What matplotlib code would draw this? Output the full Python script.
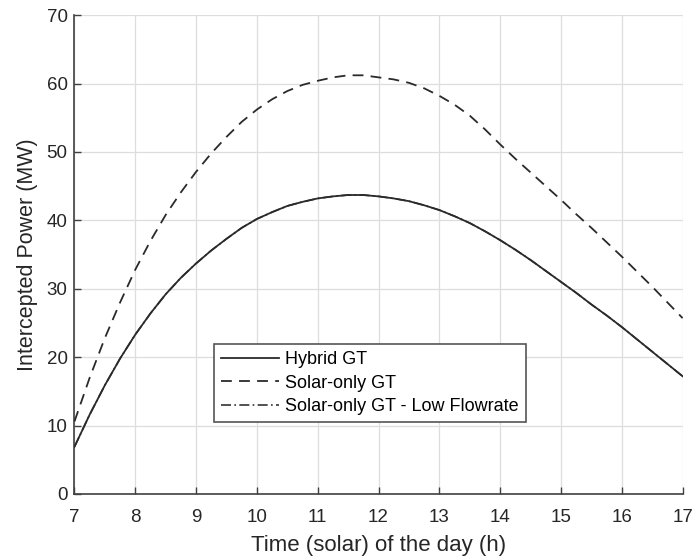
import matplotlib
matplotlib.use("Agg")
import matplotlib.pyplot as plt

# solar time of day (h), every quarter hour
hours = [7.0, 7.25, 7.5, 7.75, 8.0, 8.25, 8.5, 8.75, 9.0, 9.25, 9.5, 9.75,
         10.0, 10.25, 10.5, 10.75, 11.0, 11.25, 11.5, 11.75, 12.0, 12.25, 12.5, 12.75,
         13.0, 13.25, 13.5, 13.75, 14.0, 14.25, 14.5, 14.75, 15.0, 15.25, 15.5, 15.75,
         16.0, 16.25, 16.5, 16.75, 17.0]

# intercepted power (MW)
hybrid_gt = [6.9, 11.6, 15.9, 19.8, 23.3, 26.4, 29.2, 31.6, 33.7, 35.6, 37.3, 38.9,
             40.2, 41.2, 42.1, 42.7, 43.2, 43.5, 43.7, 43.7, 43.5, 43.2, 42.8, 42.2,
             41.5, 40.6, 39.6, 38.4, 37.1, 35.7, 34.2, 32.6, 31.0, 29.4, 27.7, 26.1,
             24.4, 22.6, 20.8, 19.0, 17.2]
solar_only_gt = [10.6, 17.0, 22.8, 28.0, 32.8, 37.0, 40.8, 44.1, 47.1, 49.8, 52.2, 54.4,
                 56.2, 57.7, 58.9, 59.8, 60.4, 60.9, 61.2, 61.2, 60.9, 60.6, 60.1, 59.3,
                 58.2, 56.9, 55.3, 53.3, 51.1, 49.0, 47.0, 45.0, 43.0, 40.9, 38.9, 36.8,
                 34.7, 32.5, 30.3, 28.0, 25.7]
# the low flowrate case is hidden under the hybrid curve
solar_only_low = list(hybrid_gt)

x_ticks = list(range(7, 18))
y_ticks = list(range(0, 80, 10))

plt.rcParams["font.family"] = ["Liberation Sans", "DejaVu Sans"]
axis_gray = "#404040"
text_col = "#262626"

fig = plt.figure(figsize=(6.93, 5.6), dpi=100)
ax = fig.add_axes([0.1075, 0.118, 0.8775, 0.855])

ax.plot(hours, solar_only_low, color="#333333", lw=1.2, linestyle=(0, (6, 2, 1, 2)),
        label="Solar-only GT - Low Flowrate", zorder=2)
ax.plot(hours, hybrid_gt, color="#2a2a2a", lw=1.3, linestyle="-", label="Hybrid GT", zorder=3)
ax.plot(hours, solar_only_gt, color="#2a2a2a", lw=1.3, linestyle=(0, (6, 4)),
        label="Solar-only GT", zorder=3)

ax.set_xlim(7, 17)
ax.set_ylim(0, 70)
ax.set_xticks(x_ticks)
ax.set_yticks(y_ticks)
ax.grid(True, color="#dddddd", lw=0.9)
ax.set_axisbelow(True)

for side in ["top", "right"]:
    ax.spines[side].set_visible(False)
for side in ["left", "bottom"]:
    ax.spines[side].set_color(axis_gray)
    ax.spines[side].set_linewidth(1.2)

ax.tick_params(direction="in", length=5, width=1.0, color=axis_gray,
               labelsize=13.5, labelcolor=text_col)
ax.tick_params(axis="x", pad=11)
ax.tick_params(axis="y", pad=5)
ax.set_xlabel("Time (solar) of the day (h)", fontsize=16, color=text_col, labelpad=6)
ax.set_ylabel("Intercepted Power (MW)", fontsize=15.5, color=text_col, labelpad=6)

# legend order: hybrid, solar-only, low flowrate
handles, labels = ax.get_legend_handles_labels()
order = [1, 2, 0]
leg = ax.legend([handles[i] for i in order], [labels[i] for i in order],
                loc="lower left", bbox_to_anchor=(0.229, 0.15), borderaxespad=0,
                fontsize=13, fancybox=False, framealpha=1, edgecolor="#555555",
                handlelength=3.2, handletextpad=0.35, borderpad=0.4, labelspacing=0.35)
leg.get_frame().set_linewidth(1.2)

fig.savefig("out.png", dpi=100)
